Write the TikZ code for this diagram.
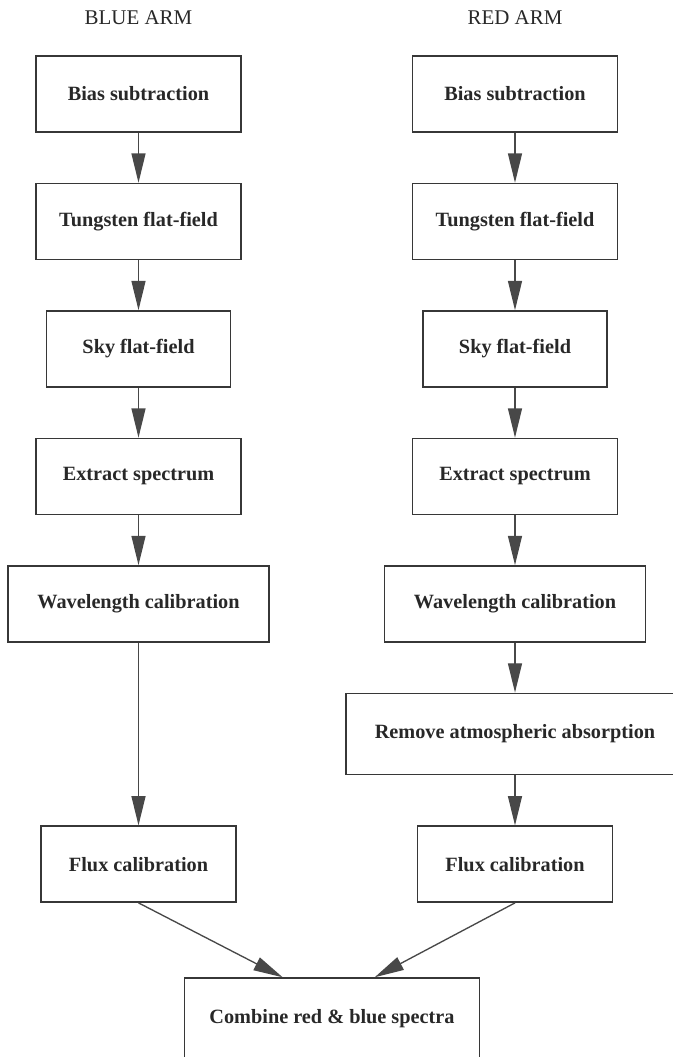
\documentclass[tikz,border=0pt]{standalone}
\usepackage{fontspec}
\setmainfont{Liberation Serif}
\usetikzlibrary{arrows.meta, positioning}
\definecolor{edgeGray}{RGB}{55,55,55}
\definecolor{tipGray}{RGB}{72,72,72}
\definecolor{inkGray}{RGB}{40,40,40}

\begin{document}
\begin{tikzpicture}[
    x=0.75pt, y=-0.75pt,
    node distance=37.5pt,
    stage/.style={rectangle, draw=edgeGray, line width=1.1pt, fill=white, minimum width=153.75pt, minimum height=57pt, inner sep=0pt, text=inkGray, font=\fontsize{15.2}{18}\selectfont\bfseries},
    armlabel/.style={text=inkGray, font=\fontsize{15.7}{18}\selectfont},
    flow/.style={-{Triangle[length=22pt, width=10.5pt]}, line width=1pt, draw=tipGray}
]
\useasboundingbox (0,0) rectangle (672,1057);

% Arm headings
\node[armlabel] (bluehead) at (138.5,18) {BLUE ARM};
\node[armlabel] (redhead) at (515,18) {RED ARM};

% Blue arm
\node[stage] (bbias) at (138.5,94) {Bias subtraction};
\node[stage, below=of bbias] (btung) {Tungsten flat-field};
\node[stage, below=of btung, minimum width=138pt] (bsky) {Sky flat-field};
\node[stage, below=of bsky] (bext) {Extract spectrum};
\node[stage, below=of bext, minimum width=195.75pt] (bwave) {Wavelength calibration};

% Red arm
\node[stage] (rbias) at (515,94) {Bias subtraction};
\node[stage, below=of rbias] (rtung) {Tungsten flat-field};
\node[stage, below=of rtung, minimum width=138pt] (rsky) {Sky flat-field};
\node[stage, below=of rsky] (rext) {Extract spectrum};
\node[stage, below=of rext, minimum width=195.75pt] (rwave) {Wavelength calibration};
\node[stage, below=of rwave, minimum width=253.5pt, minimum height=61pt] (ratm) {Remove atmospheric absorption};
\node[stage, below=of ratm, minimum width=146.25pt] (rflux) {Flux calibration};

% Blue flux step sits level with the red one
\node[stage, minimum width=146.25pt] (bflux) at (bwave |- rflux) {Flux calibration};

% Both arms end here
\node[stage, minimum width=221.25pt, minimum height=61.5pt] (merge) at (332,1019) {Combine red \& blue spectra};

\draw[flow] (bbias) -- (btung);
\draw[flow] (btung) -- (bsky);
\draw[flow] (bsky) -- (bext);
\draw[flow] (bext) -- (bwave);
\draw[flow] (bwave) -- (bflux);

\draw[flow] (rbias) -- (rtung);
\draw[flow] (rtung) -- (rsky);
\draw[flow] (rsky) -- (rext);
\draw[flow] (rext) -- (rwave);
\draw[flow] (rwave) -- (ratm);
\draw[flow] (ratm) -- (rflux);

\draw[flow] (bflux.south) -- ([xshift=-37pt]merge.north);
\draw[flow] (rflux.south) -- ([xshift=32pt]merge.north);
\end{tikzpicture}
\end{document}
